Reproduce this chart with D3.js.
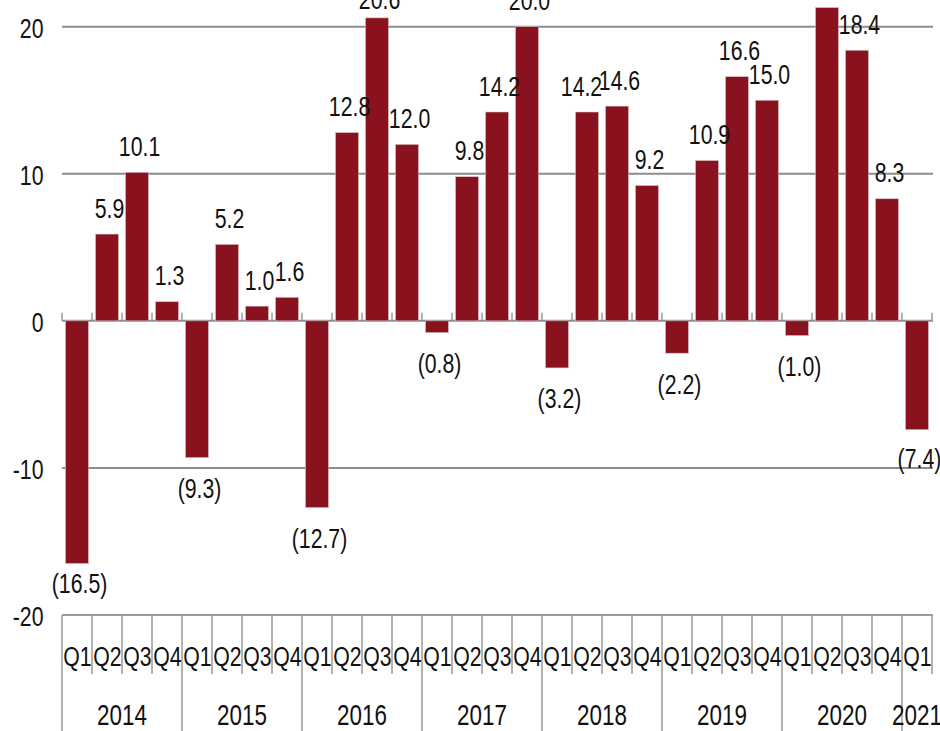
<!DOCTYPE html>
<html>
<head>
<meta charset="utf-8">
<script src="https://cdn.jsdelivr.net/npm/d3@7/dist/d3.min.js"></script>
<style>
  html, body { margin: 0; padding: 0; background: #fff; overflow: hidden; }
  svg { display: block; }
  text { font-family: "Liberation Sans", Arial, sans-serif; fill: #111; }
</style>
</head>
<body>
<svg id="chart" width="940" height="731"></svg>
<script>
// Quarterly change, 2014 Q1 – 2021 Q1
const years = ["2014", "2015", "2016", "2017", "2018", "2019", "2020", "2021"];
const quarterLabels = [
  "Q1", "Q2", "Q3", "Q4", "Q1", "Q2", "Q3", "Q4",
  "Q1", "Q2", "Q3", "Q4", "Q1", "Q2", "Q3", "Q4",
  "Q1", "Q2", "Q3", "Q4", "Q1", "Q2", "Q3", "Q4",
  "Q1", "Q2", "Q3", "Q4", "Q1"
];
const values = [
  -16.5, 5.9, 10.1, 1.3,
  -9.3, 5.2, 1.0, 1.6,
  -12.7, 12.8, 20.6, 12.0,
  -0.8, 9.8, 14.2, 20.0,
  -3.2, 14.2, 14.6, 9.2,
  -2.2, 10.9, 16.6, 15.0,
  -1.0, 21.3, 18.4, 8.3,
  -7.4
];
const yTicks = [-20, -10, 0, 10, 20];

const categories = values.map((v, i) => years[Math.floor(i / 4)] + " " + quarterLabels[i]);
const data = values.map((v, i) => ({ key: categories[i], q: quarterLabels[i], year: years[Math.floor(i / 4)], value: v }));

// Layout
const plotLeft = 62, plotRight = 932, plotTop = 26.7, plotBottom = 615;
const barColor = "#8A121E";
const gridColor = "#8c8c8c";
const axisColor = "#9a9a9a";
const sx = 0.76; // horizontal squeeze of the narrow typeface

const svg = d3.select("#chart");

const x = d3.scaleBand()
  .domain(categories)
  .range([plotLeft, plotRight])
  .paddingInner(0.233)
  .paddingOuter(0.1167);
const step = x.step();
const cellLeft = k => x(k) - (step - x.bandwidth()) / 2;

const y = d3.scaleLinear().domain([-20, 20]).range([plotBottom, plotTop]);

// squeezed text helper
function label(g, tx, ty, str, size, anchor) {
  return g.append("text")
    .attr("transform", `translate(${tx},${ty}) scale(${sx},1)`)
    .attr("text-anchor", anchor || "middle")
    .style("font-size", size + "px")
    .text(str);
}

// Horizontal gridlines (except the bottom axis)
const grid = svg.append("g");
grid.selectAll("line")
  .data(yTicks.filter(t => t !== -20))
  .join("line")
  .attr("x1", plotLeft).attr("x2", plotRight + 1)
  .attr("y1", d => y(d)).attr("y2", d => y(d))
  .attr("stroke", gridColor)
  .attr("stroke-width", 2);

// Small upward ticks on the zero line at every category boundary
const boundaries = categories.map(cellLeft).concat([plotRight]);
grid.selectAll("line.zt")
  .data(boundaries)
  .join("line")
  .attr("class", "zt")
  .attr("x1", d => d).attr("x2", d => d)
  .attr("y1", y(0) - 8).attr("y2", y(0))
  .attr("stroke", axisColor)
  .attr("stroke-width", 1.5);

// Y tick labels
const yAxisG = svg.append("g");
yTicks.forEach(t => label(yAxisG, 43.5, y(t) + 11, String(t), 28, "end"));

// Bars
svg.append("g").selectAll("rect")
  .data(data)
  .join("rect")
  .attr("x", d => x(d.key))
  .attr("width", x.bandwidth())
  .attr("y", d => y(Math.max(0, d.value)))
  .attr("height", d => Math.abs(y(d.value) - y(0)))
  .attr("fill", barColor)
  .attr("stroke", "#d2c3c5")
  .attr("stroke-width", 0.6);

// Value labels (a few are moved to avoid collisions)
const fmt = v => v < 0 ? "(" + d3.format(".1f")(-v) + ")" : d3.format(".1f")(v);
const nudge = { "2016 Q3": [0, 8], "2018 Q2": [-8, 0], "2014 Q1": [0, -11], "2021 Q1": [0, -2] };
const valG = svg.append("g");
data.forEach(d => {
  const [dx, dy] = nudge[d.key] || [0, 0];
  const cx = x(d.key) + x.bandwidth() / 2 + 2.5 + dx;
  const by = d.value >= 0 ? y(d.value) - 16.5 : y(d.value) + 40.5;
  label(valG, cx, by + dy, fmt(d.value), 28);
});

// Bottom category axis
const axG = svg.append("g");
axG.append("line")
  .attr("x1", plotLeft).attr("x2", plotRight + 1)
  .attr("y1", plotBottom).attr("y2", plotBottom)
  .attr("stroke", axisColor).attr("stroke-width", 2);

axG.selectAll("line.div")
  .data(boundaries.map((b, i) => ({ b, yearStart: i % 4 === 0 && i < categories.length })))
  .join("line")
  .attr("class", "div")
  .attr("x1", d => d.b).attr("x2", d => d.b)
  .attr("y1", plotBottom)
  .attr("y2", d => d.yearStart ? 731 : 674)
  .attr("stroke", axisColor)
  .attr("stroke-width", 1.5);

data.forEach(d => label(axG, x(d.key) + x.bandwidth() / 2 + 0.5, 666, d.q, 28));

years.forEach((yr, i) => {
  const ks = categories.filter((k, j) => Math.floor(j / 4) === i);
  const x0 = cellLeft(ks[0]);
  const x1 = cellLeft(ks[ks.length - 1]) + step;
  label(axG, (x0 + x1) / 2, 725, yr, 29.5);
});
</script>
</body>
</html>
